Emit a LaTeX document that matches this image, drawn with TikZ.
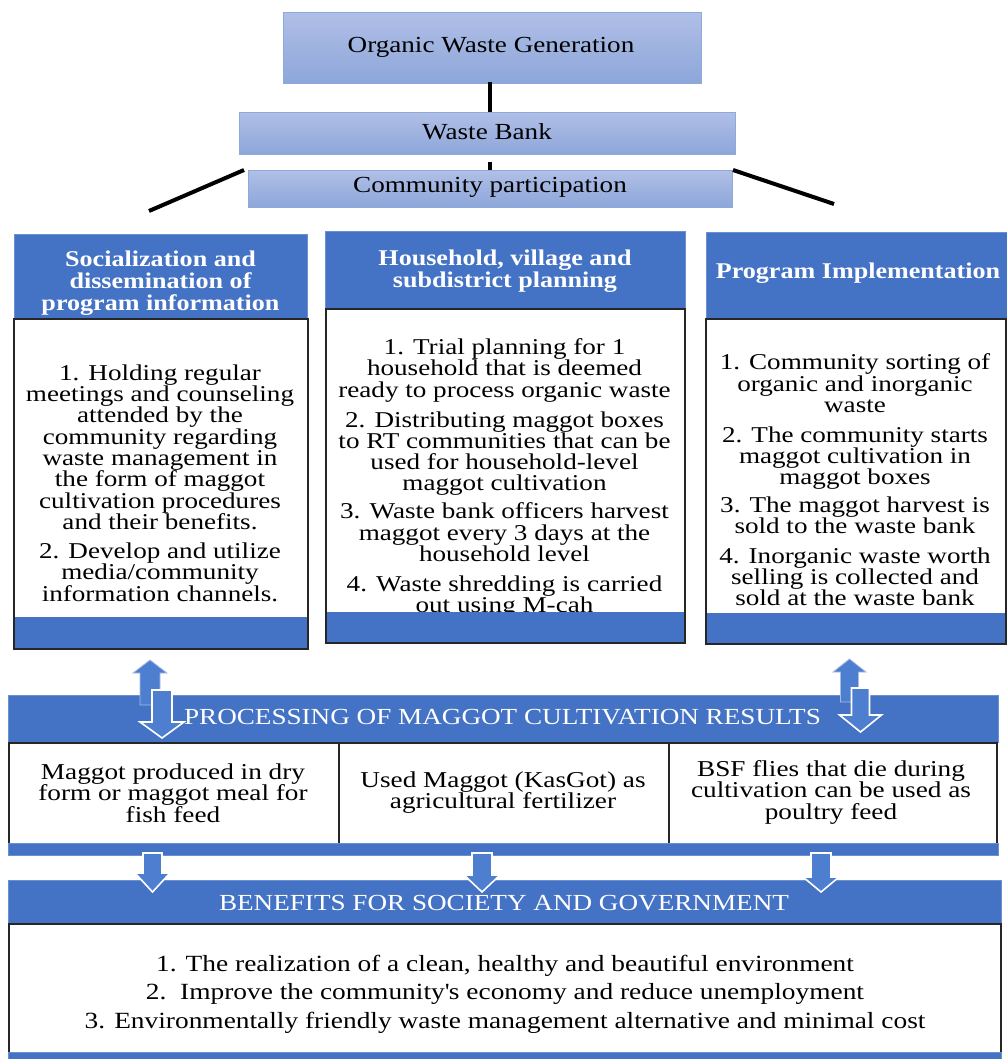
\documentclass[tikz,border=0pt]{standalone}
\usepackage{fontspec}
\setmainfont{Liberation Serif}
\newfontfamily\fcol[FakeStretch=1.2]{Liberation Serif}
\newfontfamily\fhead[FakeStretch=1.16]{Liberation Serif}
\newfontfamily\fmid[FakeStretch=1.18]{Liberation Serif}
\definecolor{hblue}{HTML}{4472C4}
\definecolor{hedge}{HTML}{6A8FD3}
\definecolor{ablue}{HTML}{4D7ECF}
\definecolor{tlight}{HTML}{B0BFE6}
\definecolor{tdark}{HTML}{8DA6DA}
\definecolor{tbord}{HTML}{8EAADB}
\newcommand\bodyfnt{\fcol\fontsize{22.6}{21.3}\selectfont\lineskiplimit=-100pt}
\newcommand\cellfnt{\fcol\fontsize{22.7}{21.5}\selectfont\lineskiplimit=-100pt}
\newcommand\headfnt{\fhead\fontsize{22.5}{22}\selectfont\bfseries\lineskiplimit=-100pt}
\newcommand\titfnt{\fmid\fontsize{23}{23}\selectfont}
\newcommand\benfnt{\fmid\fontsize{23.2}{28.5}\selectfont\lineskiplimit=-100pt}
\newcommand\blockdown[7]{% style, cx, top, shaft half width, head half width, head base, tip
  \filldraw[#1] ({#2-#4},#3) -- ({#2+#4},#3) -- ({#2+#4},#6) -- ({#2+#5},#6) -- (#2,#7)
    -- ({#2-#5},#6) -- ({#2-#4},#6) -- cycle;}
\newcommand\blockup[7]{% style, cx, bottom, shaft half width, head half width, head base, tip
  \filldraw[#1] ({#2-#4},#3) -- ({#2+#4},#3) -- ({#2+#4},#6) -- ({#2+#5},#6) -- (#2,#7)
    -- ({#2-#5},#6) -- ({#2-#4},#6) -- cycle;}
\tikzset{
  topbox/.style={draw=tbord, line width=1pt, top color=tlight, bottom color=tdark,
    inner sep=0, anchor=north west},
  toptxt/.style={text=black, font=\titfnt, inner sep=0},
  conn/.style={line width=4pt, black},
  bluebox/.style={fill=hblue, draw=hedge, line width=0.8pt, inner sep=0, anchor=north west},
  whitebox/.style={fill=white, inner sep=0, anchor=north west},
  framebox/.style={draw=black!85, line width=1.6pt, inner sep=0, anchor=north west},
  headtxt/.style={text=white, font=\headfnt, align=center, inner sep=0},
  bodytxt/.style={text=black, font=\bodyfnt, align=center, inner sep=0},
  celltxt/.style={text=black, font=\cellfnt, align=center, inner sep=0},
  titletxt/.style={text=white, font=\titfnt, align=center, inner sep=0},
  bentxt/.style={text=black, font=\benfnt, align=center, inner sep=0},
  uparr/.style={fill=ablue, draw=hedge!60!white, line width=0.8pt},
  dnarr/.style={fill=ablue, draw=white, line width=1.6pt},
}
\begin{document}
\begin{tikzpicture}[x=1pt,y=-1pt]
\useasboundingbox (0,0) rectangle (1006,1059);
\fill[white] (0,0) rectangle (1006,1059);

% ---------- top part ----------
\node[topbox, minimum width=418, minimum height=71] (ow) at (283,12) {};
\node[toptxt] (owt) at (491,47) {Organic Waste Generation};
\node[topbox, minimum width=496, minimum height=42] (wb) at (239,112) {};
\node[toptxt] (wbt) at (487,132) {Waste Bank};
\node[topbox, minimum width=484, minimum height=37] (cp) at (248,170) {};
\node[toptxt] (cpt) at (490,187) {Community participation};

\coordinate (dl) at (149,211);
\coordinate (dr) at (834,204);
\draw[conn] ([yshift=2pt]ow.south -| cpt.north) -- (wb.north -| cpt.north);
\draw[conn] ([yshift=-7pt]wb.south -| cpt.north) -- (cp.north -| cpt.north);
\draw[conn] ([xshift=-4pt]cp.north west) -- (dl);
\draw[conn] (cp.north east) -- (dr);

% ---------- column 1 ----------
\node[bluebox, minimum width=293, minimum height=84] (h1) at (14,234) {};
\node[headtxt] (h1t) at (160.5,283) {Socialization and\\dissemination of\\program information};
\node[whitebox, minimum width=294, minimum height=330] (b1) at (13,318) {};
\node[bodytxt] (b1t) at (160,483) {1. Holding regular\\meetings and counseling\\attended by the\\community regarding\\waste management in\\the form of maggot\\cultivation procedures\\and their benefits.\\[7.7pt]2. Develop and utilize\\media/community\\information channels.};
\node[bluebox, draw=none, minimum width=294, minimum height=31] (f1) at (13,617) {};
\node[framebox, minimum width=294, minimum height=330] (r1) at (13,318) {};

% ---------- column 2 ----------
\node[bluebox, minimum width=360, minimum height=77] (h2) at (325,231) {};
\node[headtxt] (h2t) at (505,271) {Household, village and\\subdistrict planning};
\node[whitebox, minimum width=359, minimum height=334] (b2) at (325,308) {};
\node[bodytxt] (b2t) at (504.5,478) {1. Trial planning for 1\\household that is deemed\\ready to process organic waste\\[8.5pt]2. Distributing maggot boxes\\to RT communities that can be\\used for household-level\\maggot cultivation\\[6.5pt]3. Waste bank officers harvest\\maggot every 3 days at the\\household level\\[8.5pt]4. Waste shredding is carried\\out using M-cah};
\node[bluebox, draw=none, minimum width=359, minimum height=30] (f2) at (325,612) {};
\node[framebox, minimum width=359, minimum height=334] (r2) at (325,308) {};

% ---------- column 3 ----------
\node[bluebox, minimum width=301, minimum height=86] (h3) at (706,232) {};
\node[headtxt] (h3t) at (858,273) {Program Implementation};
\node[whitebox, minimum width=300, minimum height=325] (b3) at (705,318) {};
\node[bodytxt] (b3t) at (855,480) {1. Community sorting of\\organic and inorganic\\waste\\[8.5pt]2. The community starts\\maggot cultivation in\\maggot boxes\\[6pt]3. The maggot harvest is\\sold to the waste bank\\[8.5pt]4. Inorganic waste worth\\selling is collected and\\sold at the waste bank};
\node[bluebox, draw=none, minimum width=300, minimum height=30] (f3) at (705,613) {};
\node[framebox, minimum width=300, minimum height=325] (r3) at (705,318) {};

% ---------- processing ----------
\node[bluebox, minimum width=990, minimum height=47] (pb) at (8,695) {};
\node[titletxt] (pbt) at (502.5,717) {PROCESSING OF MAGGOT CULTIVATION RESULTS};
\node[framebox, fill=white, minimum width=330, minimum height=101] (c1) at (8,742) {};
\node[framebox, fill=white, minimum width=330, minimum height=101] (c2) at (338,742) {};
\node[framebox, fill=white, minimum width=328, minimum height=101] (c3) at (668,742) {};
\node[celltxt] (c1t) at (173,793) {Maggot produced in dry\\form or maggot meal for\\fish feed};
\node[celltxt] (c2t) at (503,792.5) {Used Maggot (KasGot) as\\agricultural fertilizer};
\node[celltxt] (c3t) at (831,792) {BSF flies that die during\\cultivation can be used as\\poultry feed};
\node[bluebox, minimum width=990, minimum height=12] (pf) at (8,843) {};

% double arrows
\blockup{uparr}{150}{705}{10}{17}{673}{660}
\blockdown{dnarr}{162}{690}{10}{22}{722}{738}
\blockup{uparr}{849.5}{702}{9}{16.5}{672}{659}
\blockdown{dnarr}{860.5}{688}{9}{21}{715}{732}

% ---------- benefits ----------
\node[bluebox, minimum width=993, minimum height=43] (bb) at (8,880) {};
\node[titletxt] (bbt) at (504,903) {BENEFITS FOR SOCIETY AND GOVERNMENT};
\node[framebox, fill=white, minimum width=992, minimum height=129] (bx) at (8,923) {};
\node[bentxt] (bxt) at (505,994) {1. The realization of a clean, healthy and beautiful environment\\2.\ \ Improve the community\textquotesingle s economy and reduce unemployment\\3. Environmentally friendly waste management alternative and minimal cost};
\node[bluebox, minimum width=993, minimum height=10] (bf) at (8,1052) {};

% single arrows
\blockdown{dnarr}{152.5}{853}{9.5}{17.5}{873}{892}
\blockdown{dnarr}{482}{853}{10}{18}{875}{892}
\blockdown{dnarr}{821}{853}{10}{18}{877}{892}
\end{tikzpicture}
\end{document}
